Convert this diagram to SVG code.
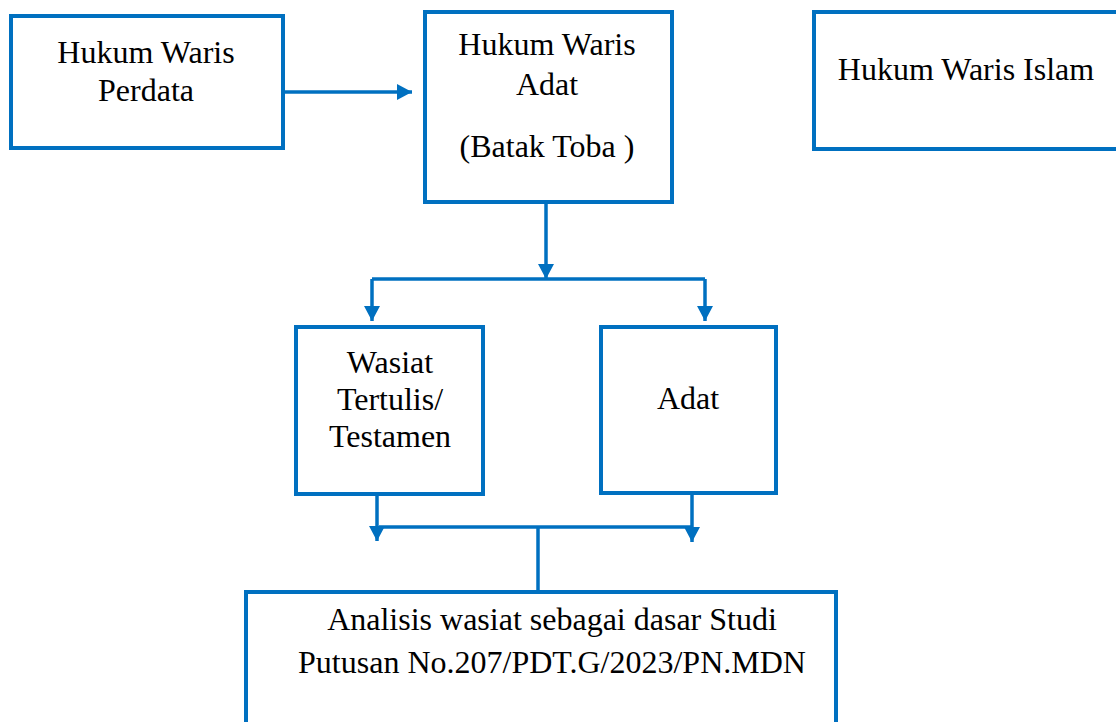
<svg xmlns="http://www.w3.org/2000/svg" width="1116" height="722" viewBox="0 0 1116 722">
<style>
.box{fill:#fff;stroke:#0070C0;stroke-width:4}
.t{font-family:"Liberation Serif","Times New Roman",serif;font-size:32px;fill:#000;text-anchor:middle}
.c{fill:none;stroke:#0070C0;stroke-width:3.5}
</style>
<defs>
<marker id="ah" markerUnits="userSpaceOnUse" markerWidth="16" markerHeight="16" refX="15" refY="8" orient="auto">
<polygon points="0,0 15,8 0,16" fill="#0070C0"/>
</marker>
</defs>
<rect width="1116" height="722" fill="#fff"/>
<g id="connectors">
<path class="c" d="M283,92 H412" marker-end="url(#ah)"/>
<path class="c" d="M546,202 V279" marker-end="url(#ah)"/>
<path class="c" d="M372,279 H705"/>
<path class="c" d="M372,279 V321" marker-end="url(#ah)"/>
<path class="c" d="M705,279 V321" marker-end="url(#ah)"/>
<path class="c" d="M377,494 V541" marker-end="url(#ah)"/>
<path class="c" d="M692,493 V542" marker-end="url(#ah)"/>
<path class="c" d="M379,527 H693"/>
<path class="c" d="M538,527 V592"/>
</g>
<g id="perdata">
<rect class="box" x="11" y="16" width="272" height="132"/>
<text class="t" x="146" y="63">Hukum Waris</text>
<text class="t" x="146" y="101">Perdata</text>
</g>
<g id="adat-batak">
<rect class="box" x="425" y="12" width="247" height="190"/>
<text class="t" x="547" y="55">Hukum Waris</text>
<text class="t" x="547" y="95">Adat</text>
<text class="t" x="547" y="157">(Batak Toba )</text>
</g>
<g id="islam">
<rect class="box" x="814" y="12" width="310" height="137"/>
<text class="t" x="966" y="80">Hukum Waris Islam</text>
</g>
<g id="wasiat">
<rect class="box" x="296" y="327" width="187" height="167"/>
<text class="t" x="390" y="373">Wasiat</text>
<text class="t" x="390" y="410">Tertulis/</text>
<text class="t" x="390" y="447">Testamen</text>
</g>
<g id="adat">
<rect class="box" x="601" y="327" width="175" height="166"/>
<text class="t" x="688" y="409">Adat</text>
</g>
<g id="analisis">
<rect class="box" x="246" y="592" width="590" height="150"/>
<text class="t" x="552" y="630">Analisis wasiat sebagai dasar Studi</text>
<text class="t" x="552" y="673">Putusan No.207/PDT.G/2023/PN.MDN</text>
</g>
</svg>
